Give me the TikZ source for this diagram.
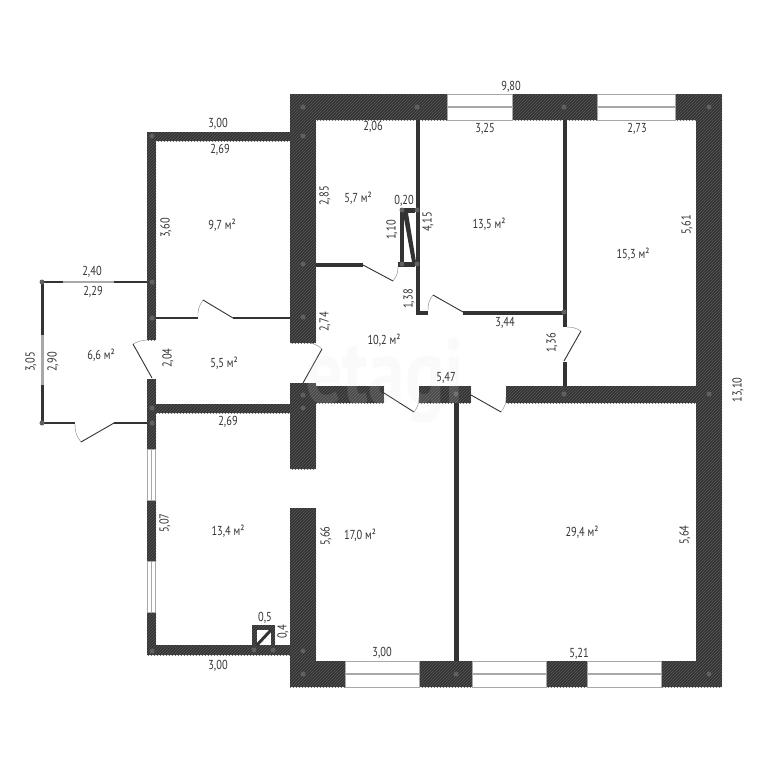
\documentclass[tikz,border=0pt]{standalone}
\usepackage{xcolor}
\usepackage{fontspec}
\setmainfont[FakeStretch=0.8]{PT Sans}
\usepackage{tikz}
\usetikzlibrary{patterns}
\definecolor{walldark}{HTML}{333333}
\definecolor{wallhatch}{HTML}{5A5A5A}
\definecolor{glassline}{HTML}{A8A8A8}
\definecolor{inktext}{HTML}{333333}

\begin{document}
\begin{tikzpicture}[x=1pt, y=-1pt,
    wall/.style={fill=walldark, postaction={pattern=north east lines, pattern color=wallhatch}},
    thinwall/.style={fill=walldark},
    glass/.style={fill=white, draw=glassline, line width=0.8pt},
    glassmid/.style={draw=glassline, line width=1.3pt},
    leaf/.style={draw=walldark, line width=0.9pt},
    swing/.style={draw=gray, line width=0.4pt},
    joint/.style={circle, fill=gray!75!black, inner sep=0pt, minimum size=5pt},
    dimlabel/.style={text=inktext, font=\fontsize{13}{15}\selectfont, inner sep=0pt},
    dimrot/.style={dimlabel, rotate=90}]
    \useasboundingbox[fill=white] (0,0) rectangle (768,768);

    % outer walls of the main block
    \fill[wall] (290,94) rectangle (447,120);
    \fill[wall] (512,94) rectangle (597,120);
    \fill[wall] (675,94) rectangle (722,120);
    \fill[wall] (696,120) rectangle (722,661);
    \fill[wall] (661,661) rectangle (722,687);
    \fill[wall] (546,661) rectangle (587,687);
    \fill[wall] (419,661) rectangle (472,687);
    \fill[wall] (290,661) rectangle (345,687);
    \fill[wall] (290,120) rectangle (316,343);
    \fill[wall] (290,383) rectangle (316,469);
    \fill[wall] (290,508) rectangle (316,661);

    % middle wall
    \fill[wall] (316,386) rectangle (384,403);
    \fill[wall] (419,386) rectangle (471,403);
    \fill[wall] (506,386) rectangle (696,403);

    % left wing
    \fill[wall] (147,132) rectangle (290,141);
    \fill[wall] (147,141) rectangle (156,340);
    \fill[wall] (147,379) rectangle (156,449);
    \fill[wall] (147,500) rectangle (156,561);
    \fill[wall] (147,612) rectangle (156,655);
    \fill[wall] (156,645) rectangle (290,655);
    \fill[wall] (156,404) rectangle (290,413);

    % thin partitions
    \fill[thinwall] (156,316.5) rectangle (198,319);
    \fill[thinwall] (233,316.5) rectangle (290,319);
    \fill[thinwall] (316,262.5) rectangle (363,266.5);
    \fill[thinwall] (415.5,120) rectangle (419.5,315);
    \fill[thinwall] (415.5,310.5) rectangle (428,315);
    \fill[thinwall] (463,310.5) rectangle (565,315);
    \fill[thinwall] (562.5,120) rectangle (566.5,327);
    \fill[thinwall] (562.5,362) rectangle (566.5,386);
    \fill[thinwall] (453.5,403) rectangle (458.5,661);

    % closet by the corridor
    \fill[thinwall] (400,208) rectangle (415,213);
    \fill[thinwall] (400,208) rectangle (404,262);
    \fill[thinwall] (398,262) rectangle (415,267);
    \fill[thinwall] (403,213) -- (408,213) -- (416,262) -- (412,262) -- cycle;

    % shaft in the corner room
    \fill[wall] (252,625) rectangle (275,645);
    \fill[white] (257,630) rectangle (271,645);
    \draw[walldark, line width=3pt] (257,645) -- (271,630);

    % annex
    \fill[thinwall] (42,281) rectangle (63,283);
    \fill[glassline] (63,281) rectangle (114,283);
    \fill[thinwall] (114,281) rectangle (147,283);
    \fill[thinwall] (41,281) rectangle (44,335);
    \fill[glassline] (41,335) rectangle (44,385);
    \fill[thinwall] (41,385) rectangle (44,424);
    \fill[thinwall] (42,422) rectangle (75,424);
    \fill[thinwall] (114,422) rectangle (147,424);

    % windows
    \draw[glass] (447,94) rectangle (512,120);
    \draw[glassmid] (447,107) -- (512,107);
    \draw[glass] (597,94) rectangle (675,120);
    \draw[glassmid] (597,107) -- (675,107);
    \draw[glass] (345,661) rectangle (419,687);
    \draw[glassmid] (345,674) -- (419,674);
    \draw[glass] (472,661) rectangle (546,687);
    \draw[glassmid] (472,674) -- (546,674);
    \draw[glass] (587,661) rectangle (661,687);
    \draw[glassmid] (587,674) -- (661,674);
    \draw[glass] (147.5,449) rectangle (155.5,500);
    \draw[glassmid] (151.5,449) -- (151.5,500);
    \draw[glass] (147.5,561) rectangle (155.5,612);
    \draw[glassmid] (151.5,561) -- (151.5,612);

    % doors
    \draw[leaf] (233,318) -- (203,300);
    \draw[swing] (203,300) to[bend right=20] (198,318);
    \draw[leaf] (152,378) -- (133,344);
    \draw[swing] (133,344) to[bend left=12] (147,340);
    \draw[leaf] (303,383) -- (322,349);
    \draw[swing] (322,349) to[bend right=15] (310,343);
    \draw[leaf] (384,393) -- (414,412);
    \draw[swing] (414,412) to[bend right=20] (419,396);
    \draw[leaf] (471,395) -- (501,412);
    \draw[swing] (501,412) to[bend right=20] (506,396);
    \draw[leaf] (463,312) -- (433,295);
    \draw[swing] (433,295) to[bend right=20] (428,311);
    \draw[leaf] (564,361) -- (581,331);
    \draw[swing] (581,331) to[bend right=15] (567,327);
    \draw[leaf] (363,265) -- (393,281);
    \draw[swing] (393,281) to[bend right=20] (398,266);
    \draw[leaf] (114,423) -- (81,442);
    \draw[swing] (81,442) to[bend left=20] (75,424);

    % joints
    \foreach \jx/\jy in {303/107, 303/136, 303/264, 303/317, 303/395, 303/408, 303/651, 303/674,
        152/136, 152/282, 152/318, 152/408, 152/423, 152/651, 254/650, 273/650,
        42/282, 42/423, 417/107, 564/107, 709/107, 564/312, 564/394, 709/394,
        456/394, 456/674, 709/674, 417/210, 402/210, 402/264, 417/264}
        \node[joint] at (\jx,\jy) {};

    % watermark
    \node[text=gray!25, opacity=0.14, font=\fontsize{92}{94}\selectfont\bfseries, inner sep=0pt] (markEtagi) at (385,381) {etagi};

    % top and left measures
    \node[dimlabel] (dimTopMain) at (511,87) {9,80};
    \node[dimlabel] (dimTopWing) at (218,124) {3,00};
    \node[dimlabel] (dimCloset) at (373,127) {2,06};
    \node[dimlabel] (dimRoomA) at (485,129) {3,25};
    \node[dimlabel] (dimRoomB) at (637,129) {2,73};
    \node[dimlabel] (dimWingIn) at (220,150) {2,69};
    \node[dimlabel] (dimShelf) at (404,201) {0,20};
    \node[dimlabel] (dimAnnexOut) at (92,272) {2,40};
    \node[dimlabel] (dimAnnexIn) at (93,292) {2,29};
    \node[dimlabel] (dimRoomAFoot) at (505,323) {3,44};
    \node[dimlabel] (dimHallFoot) at (446,378) {5,47};
    \node[dimlabel] (dimCornerTop) at (228,422) {2,69};
    \node[dimlabel] (dimShaftW) at (265,618) {0,5};
    \node[dimlabel] (dimCornerFoot) at (218,666) {3,00};
    \node[dimlabel] (dimMidFoot) at (382,653) {3,00};
    \node[dimlabel] (dimBigFoot) at (579,654) {5,21};

    % rotated measures
    \node[dimrot] (dimClosetH) at (325,196) {2,85};
    \node[dimrot] (dimWingH) at (166,228) {3,60};
    \node[dimrot] (dimRoomAH) at (428,222) {4,15};
    \node[dimrot] (dimRoomBH) at (687,225) {5,61};
    \node[dimrot] (dimShelfH) at (392,230) {1,10};
    \node[dimrot] (dimDoorH) at (409,299) {1,38};
    \node[dimrot] (dimHallH) at (325,322) {2,74};
    \node[dimrot] (dimPassH) at (552,343) {1,36};
    \node[dimrot] (dimLobbyH) at (168,358) {2,04};
    \node[dimrot] (dimAnnexOutH) at (31,362) {3,05};
    \node[dimrot] (dimAnnexInH) at (53,362) {2,90};
    \node[dimrot] (dimTotalH) at (738,390) {13,10};
    \node[dimrot] (dimCornerH) at (165,523) {5,07};
    \node[dimrot] (dimMidH) at (326,536) {5,66};
    \node[dimrot] (dimBigH) at (685,535) {5,64};
    \node[dimrot] (dimShaftH) at (283,632) {0,4};

    % areas
    \node[dimlabel] (areaCloset) at (358,198) {5,7 м²};
    \node[dimlabel] (areaWing) at (222,225) {9,7 м²};
    \node[dimlabel] (areaRoomA) at (489,224) {13,5 м²};
    \node[dimlabel] (areaRoomB) at (633,254) {15,3 м²};
    \node[dimlabel] (areaHall) at (384,340) {10,2 м²};
    \node[dimlabel] (areaAnnex) at (101,355) {6,6 м²};
    \node[dimlabel] (areaLobby) at (224,363) {5,5 м²};
    \node[dimlabel] (areaCorner) at (228,531) {13,4 м²};
    \node[dimlabel] (areaMid) at (360,535) {17,0 м²};
    \node[dimlabel] (areaBig) at (582,532) {29,4 м²};
\end{tikzpicture}
\end{document}
